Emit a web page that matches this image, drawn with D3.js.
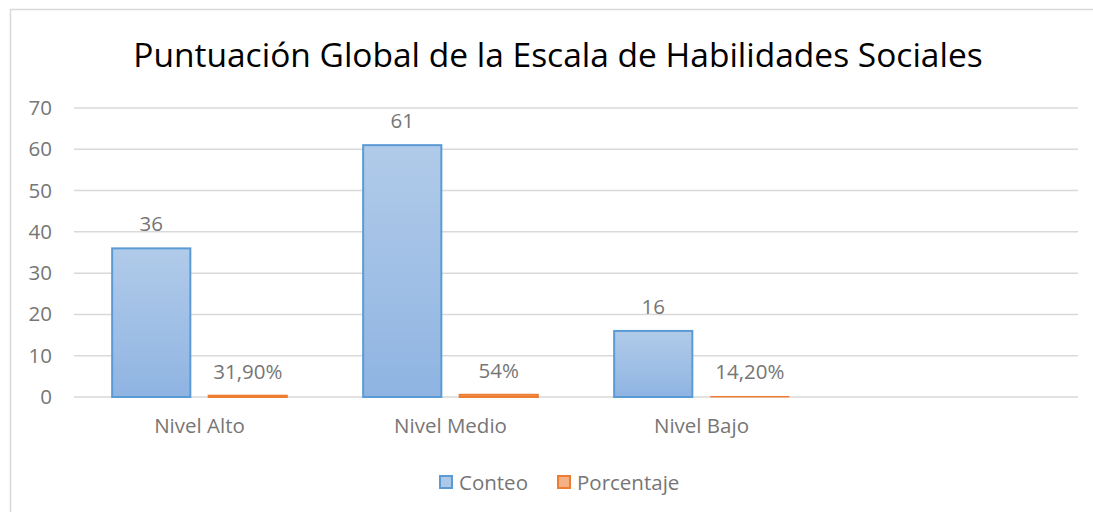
<!DOCTYPE html>
<html>
<head>
<meta charset="utf-8">
<script src="https://cdn.jsdelivr.net/npm/d3@7"></script>
<style>
  body { margin: 0; background: #fff; }
  text { font-family: "Open Sans", "Noto Sans", sans-serif; }
</style>
</head>
<body>
<div id="chart"></div>
<script>
// data
let categories = ['Nivel Alto', 'Nivel Medio', 'Nivel Bajo', ''];
let series = ['Conteo', 'Porcentaje'];
let conteo = [36, 61, 16];
let porcentaje = [0.319, 0.54, 0.142];
let porcentajeLabels = ['31,90%', '54%', '14,20%'];
let yTicks = [0, 10, 20, 30, 40, 50, 60, 70];

let width = 1093;
let height = 512;
let margin = { top: 108, right: 15, bottom: 115, left: 74 };
let labelColor = '#767676';

let svg = d3.select('#chart')
  .append('svg')
  .attr('width', width)
  .attr('height', height);

// gradients like the office style
let defs = svg.append('defs');
let gBlue = defs.append('linearGradient').attr('id', 'gBlue')
  .attr('x1', 0).attr('y1', 0).attr('x2', 0).attr('y2', 1);
gBlue.append('stop').attr('offset', '0%').attr('stop-color', '#b1cbe9');
gBlue.append('stop').attr('offset', '100%').attr('stop-color', '#8fb4e2');
let gOrange = defs.append('linearGradient').attr('id', 'gOrange')
  .attr('x1', 0).attr('y1', 0).attr('x2', 0).attr('y2', 1);
gOrange.append('stop').attr('offset', '0%').attr('stop-color', '#f7c3a6');
gOrange.append('stop').attr('offset', '100%').attr('stop-color', '#f3a77c');

// outer frame
svg.append('rect')
  .attr('x', 10.5).attr('y', 9.5)
  .attr('width', width + 20).attr('height', height + 20)
  .attr('fill', 'none')
  .attr('stroke', '#d9d9d9')
  .attr('stroke-width', 1.5);

svg.append('text')
  .attr('x', 558)
  .attr('y', 67)
  .attr('text-anchor', 'middle')
  .style('font-size', '33.5px')
  .style('fill', '#000')
  .text('Puntuación Global de la Escala de Habilidades Sociales');

let x0 = d3.scaleBand()
  .domain(categories)
  .range([margin.left, width - margin.right]);

let inset = x0.bandwidth() * 0.152;
let x1 = d3.scaleBand()
  .domain(series)
  .range([inset, x0.bandwidth() - inset])
  .paddingInner(0.19);

let y = d3.scaleLinear()
  .domain([0, 70])
  .range([height - margin.bottom, margin.top]);

// gridlines
svg.append('g')
  .selectAll('line')
  .data(yTicks)
  .enter()
  .append('line')
  .attr('x1', margin.left)
  .attr('x2', width - margin.right)
  .attr('y1', d => y(d))
  .attr('y2', d => y(d))
  .attr('stroke', '#d9d9d9')
  .attr('stroke-width', 1.5);

// y axis labels
let yAxis = svg.append('g')
  .attr('transform', `translate(${margin.left - 22},0)`)
  .call(d3.axisLeft(y).tickValues(yTicks).tickSize(0).tickPadding(0));
yAxis.select('.domain').remove();
yAxis.selectAll('text')
  .style('font-size', '20.5px')
  .style('fill', labelColor)
  .style('font-family', '"Open Sans", "Noto Sans", sans-serif');

// x axis labels
let xAxis = svg.append('g')
  .attr('transform', `translate(0,${y(0)})`)
  .call(d3.axisBottom(x0).tickSize(0).tickPadding(21));
xAxis.select('.domain').remove();
xAxis.selectAll('text')
  .style('font-size', '20.5px')
  .style('fill', labelColor)
  .style('font-family', '"Open Sans", "Noto Sans", sans-serif');

let rows = conteo.map((c, i) => ({
  cat: categories[i],
  values: [
    { key: 'Conteo', value: c, label: String(c) },
    { key: 'Porcentaje', value: porcentaje[i], label: porcentajeLabels[i] }
  ]
}));

let groups = svg.selectAll('.grp')
  .data(rows)
  .enter()
  .append('g')
  .attr('class', 'grp')
  .attr('transform', d => `translate(${x0(d.cat)},0)`);

groups.selectAll('rect')
  .data(d => d.values)
  .enter()
  .append('rect')
  .attr('x', d => x1(d.key))
  .attr('y', d => y(d.value))
  .attr('width', x1.bandwidth())
  .attr('height', d => y(0) - y(d.value))
  .attr('fill', d => d.key === 'Conteo' ? 'url(#gBlue)' : 'url(#gOrange)')
  .attr('stroke', d => d.key === 'Conteo' ? '#5b9bd5' : '#ed7d31')
  .attr('stroke-width', d => d.key === 'Conteo' ? 2 : Math.min(2, (y(0) - y(d.value)) * 1.5));

groups.selectAll('.lbl')
  .data(d => d.values)
  .enter()
  .append('text')
  .attr('class', 'lbl')
  .attr('x', d => x1(d.key) + x1.bandwidth() / 2)
  .attr('y', d => y(d.value) - 17)
  .attr('text-anchor', 'middle')
  .style('font-size', '20.5px')
  .style('fill', labelColor)
  .text(d => d.label);

// legend
let legend = svg.append('g').attr('transform', 'translate(439,482)');
let legendItems = [
  { key: 'Conteo', x: 0, fill: '#aec9e8', stroke: '#5b9bd5' },
  { key: 'Porcentaje', x: 118, fill: '#f4b183', stroke: '#ed7d31' }
];
let li = legend.selectAll('g')
  .data(legendItems)
  .enter()
  .append('g')
  .attr('transform', d => `translate(${d.x},0)`);
li.append('rect')
  .attr('x', 1).attr('y', -6)
  .attr('width', 12).attr('height', 12)
  .attr('fill', d => d.fill)
  .attr('stroke', d => d.stroke)
  .attr('stroke-width', 2);
li.append('text')
  .attr('x', 20)
  .attr('y', 7.5)
  .style('font-size', '20.5px')
  .style('fill', labelColor)
  .text(d => d.key);
</script>
</body>
</html>
